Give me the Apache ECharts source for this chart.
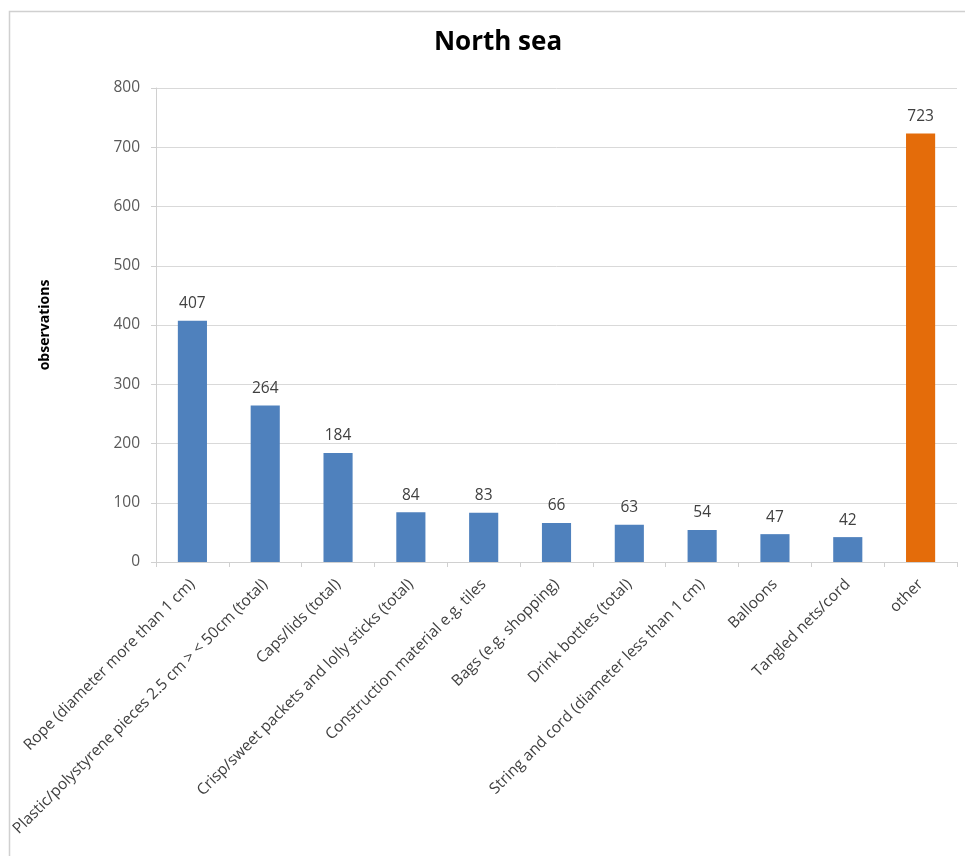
<!DOCTYPE html>
<html>
<head>
<meta charset="utf-8">
<script src="https://cdn.jsdelivr.net/npm/echarts@6/dist/echarts.min.js"></script>
<style>
html,body{margin:0;padding:0;background:#fff;}
#chart{width:965px;height:856px;}
</style>
</head>
<body>
<div id="chart"></div>
<script>
const categories = [
  'Rope (diameter more than 1 cm)',
  'Plastic/polystyrene pieces 2.5 cm > < 50cm (total)',
  'Caps/lids (total)',
  'Crisp/sweet packets and lolly sticks (total)',
  'Construction material e.g. tiles',
  'Bags (e.g. shopping)',
  'Drink bottles (total)',
  'String and cord (diameter less than 1 cm)',
  'Balloons',
  'Tangled nets/cord',
  'other'
];
const observations = [407, 264, 184, 84, 83, 66, 63, 54, 47, 42, 723];
const highlightCategory = 'other';
const yTicks = [0, 100, 200, 300, 400, 500, 600, 700, 800];

const FONT = '"Open Sans", "Liberation Sans", sans-serif';
const chart = echarts.init(document.getElementById('chart'), null, {renderer: 'canvas'});
chart.setOption({
  animation: false,
  backgroundColor: '#ffffff',
  graphic: [{
    type: 'rect',
    shape: {x: 9.5, y: 11.5, width: 1100, height: 1000},
    style: {fill: 'none', stroke: '#d0d0d0', lineWidth: 1.5},
    silent: true
  }],
  title: {
    text: 'North sea',
    left: 493,
    top: 25,
    textAlign: 'center',
    textStyle: {fontFamily: FONT, fontSize: 26, fontWeight: 'bold', color: '#000'}
  },
  grid: {left: 156, right: 8, top: 88, bottom: 294, containLabel: false},
  xAxis: {
    type: 'category',
    data: categories,
    axisLine: {lineStyle: {color: '#d0d0d0'}},
    axisTick: {show: true, alignWithLabel: false, length: 5, lineStyle: {color: '#d0d0d0'}},
    axisLabel: {
      interval: 0,
      rotate: 45,
      margin: 20,
      color: '#404040',
      fontFamily: FONT,
      fontSize: 15.5
    }
  },
  yAxis: {
    type: 'value',
    min: yTicks[0],
    max: yTicks[yTicks.length - 1],
    interval: 100,
    name: 'observations',
    nameLocation: 'middle',
    nameGap: 104,
    nameTextStyle: {fontFamily: FONT, fontSize: 14, fontWeight: 'bold', color: '#000'},
    axisLine: {show: true, lineStyle: {color: '#d0d0d0'}},
    axisTick: {show: true, length: 5, lineStyle: {color: '#d0d0d0'}},
    axisLabel: {color: '#595959', fontFamily: FONT, fontSize: 15.5, margin: 16},
    splitLine: {lineStyle: {color: '#d9d9d9'}}
  },
  series: [{
    type: 'bar',
    barWidth: '40%',
    data: observations.map((v, i) => ({
      value: v,
      itemStyle: {color: categories[i] === highlightCategory ? '#E46C0A' : '#4F81BD'}
    })),
    label: {
      show: true,
      position: 'top',
      distance: 9,
      color: '#404040',
      fontFamily: FONT,
      fontSize: 15.5
    }
  }]
});
</script>
</body>
</html>
